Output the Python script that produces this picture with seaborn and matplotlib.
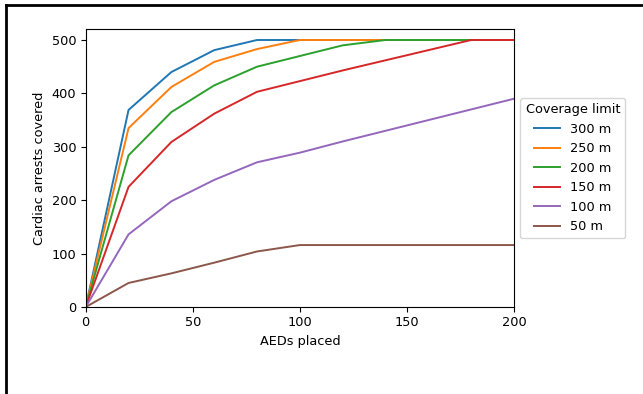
import numpy as np
import pandas as pd
import matplotlib
matplotlib.use("Agg")
import matplotlib.pyplot as plt
import seaborn as sns
from matplotlib.lines import Line2D

# AEDs placed (x) and arrests covered for each coverage limit
aeds = [0, 20, 40, 60, 80, 100, 120, 140, 160, 180, 200]
limits = ["300 m", "250 m", "200 m", "150 m", "100 m", "50 m"]
cov_300 = [0, 369, 440, 481, 500, 500, 500, 500, 500, 500, 500]
cov_250 = [0, 335, 412, 459, 483, 500, 500, 500, 500, 500, 500]
cov_200 = [0, 284, 365, 415, 450, 470, 490, 500, 500, 500, 500]
cov_150 = [0, 225, 309, 362, 403, 423, 443, 462, 481, 500, 500]
cov_100 = [0, 136, 198, 238, 271, 289, 310, 330, 350, 370, 390]
cov_50 = [0, 45, 63, 83, 104, 116, 116, 116, 116, 116, 116]

series = [cov_300, cov_250, cov_200, cov_150, cov_100, cov_50]
rows = []
for lim, vals in zip(limits, series):
    for x, y in zip(aeds, vals):
        rows.append({"AEDs placed": x, "covered": y, "limit": lim})
df = pd.DataFrame(rows)

# the reference looks like a slightly shrunk default figure
plt.rcParams["font.size"] = 9.3
plt.rcParams["xtick.major.size"] = 3.3
plt.rcParams["ytick.major.size"] = 3.3

fig = plt.figure(figsize=(6.43, 3.94), dpi=100)
ax = fig.add_axes([0.1333, 0.2208, 0.6661, 0.7048])

sns.lineplot(data=df, x="AEDs placed", y="covered", hue="limit",
             hue_order=limits, palette=sns.color_palette("tab10", 6),
             linewidth=1.4, ax=ax)

ax.set_xlim(0, 200)
ax.set_ylim(0, 520)
ax.set_xticks([0, 50, 100, 150, 200])
ax.set_yticks([0, 100, 200, 300, 400, 500])
ax.set_xlabel("AEDs placed")
ax.set_ylabel("Cardiac arrests covered")
ax.legend(title="Coverage limit", loc="center left", bbox_to_anchor=(1, 0.5))

# black frame on the left and top edges of the picture
fig.add_artist(Line2D([0.0101, 0.0101], [0, 0.988], transform=fig.transFigure,
                      color="black", linewidth=2))
fig.add_artist(Line2D([0.0101, 1], [0.988, 0.988], transform=fig.transFigure,
                      color="black", linewidth=2))

fig.savefig("out.png", dpi=100)
